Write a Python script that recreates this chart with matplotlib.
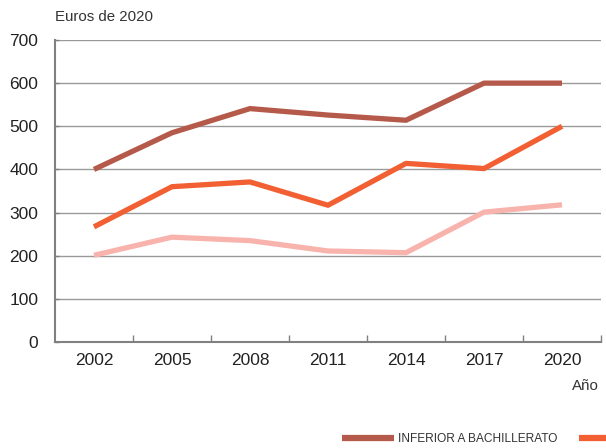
import matplotlib.pyplot as plt
from matplotlib.ticker import FixedLocator, NullFormatter

plt.rcParams["font.family"] = ["Liberation Sans", "DejaVu Sans"]

years = ["2002", "2005", "2008", "2011", "2014", "2017", "2020"]
inferior = [400, 485, 541, 526, 514, 600, 600]
bachillerato = [267, 360, 371, 317, 414, 402, 500]
superior = [201, 243, 235, 211, 207, 301, 318]

series = [
    ("INFERIOR A BACHILLERATO", inferior, "#b55a4a"),
    ("BACHILLERATO", bachillerato, "#f15f33"),
    ("SUPERIOR", superior, "#f9b3ad"),
]

fig = plt.figure(figsize=(6.06, 4.48), dpi=100)
ax = fig.add_axes([55 / 606, 1 - 342 / 448, 546 / 606, 302 / 448])

x = list(range(len(years)))
for label, vals, color in series:
    ax.plot(x, vals, color=color, lw=3.8, label=label, solid_capstyle="butt", zorder=3)

ax.set_xlim(-0.5, len(years) - 0.5)
ax.set_ylim(0, 700)
ax.set_yticks(range(0, 701, 100))
ax.yaxis.grid(True, color="#9a9a9a", lw=1)
ax.set_axisbelow(True)

ax.set_xticks(x)
ax.set_xticklabels(years)
ax.xaxis.set_minor_locator(FixedLocator([i + 0.5 for i in x]))
ax.xaxis.set_minor_formatter(NullFormatter())
ax.tick_params(axis="x", which="major", length=0, pad=8, labelsize=12.5, colors="#222222")
ax.tick_params(axis="x", which="minor", direction="in", length=5, width=1, color="#808080")
ax.tick_params(axis="y", length=3, direction="in", width=1, color="#808080", labelsize=12.5, pad=12)
for lab in ax.get_yticklabels():
    lab.set_color("#222222")

for s in ["top", "right"]:
    ax.spines[s].set_visible(False)
for s in ["left", "bottom"]:
    ax.spines[s].set_color("#808080")
    ax.spines[s].set_linewidth(1.5)

fig.text(55 / 606, 1 - 17 / 448, "Euros de 2020", fontsize=10.8, color="#333333", va="center", ha="left")
fig.text(599 / 606, 1 - 386 / 448, "Año", fontsize=10.8, color="#333333", va="center", ha="right")

# legend runs off the right edge, as in the source figure
leg = fig.legend(loc="center left", bbox_to_anchor=(331 / 606, 1 - 439 / 448), ncol=3,
                 frameon=False, handlelength=4.35, handletextpad=0.4, columnspacing=1.75,
                 prop={"size": 8.6})
for t in leg.get_texts():
    t.set_color("#333333")
for h in leg.get_lines():
    h.set_linewidth(4.5)

fig.savefig("out.png", dpi=100)
